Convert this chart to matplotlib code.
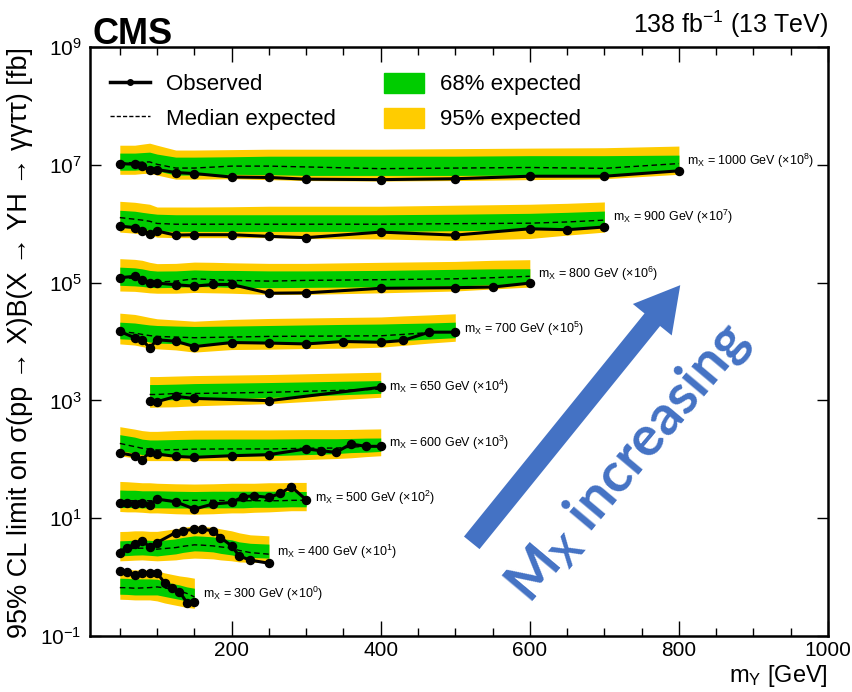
import numpy as np
import matplotlib
matplotlib.use("Agg")
import matplotlib.pyplot as plt
from matplotlib import font_manager
from matplotlib.patches import Patch, FancyArrowPatch
from matplotlib.lines import Line2D
import matplotlib.ticker as mticker

installed = {f.name for f in font_manager.fontManager.ttflist}
FONT = 'Liberation Sans Narrow' if 'Liberation Sans Narrow' in installed else 'Liberation Sans'
plt.rcParams['font.family'] = [FONT, 'DejaVu Sans']
plt.rcParams['mathtext.fontset'] = 'custom'
plt.rcParams['mathtext.rm'] = FONT
plt.rcParams['mathtext.it'] = FONT + ':italic'
plt.rcParams['mathtext.bf'] = FONT + ':bold'

GREEN = '#00cc00'
YELLOW = '#ffcc00'
BLUE = '#4472c4'

# limits in fb (before the per-mass scale factor)
my_1000 = [50, 70, 80, 90, 100, 125, 150, 200, 250, 300, 400, 500, 600, 700, 800]
obs_1000 = [0.105, 0.102, 0.095, 0.081, 0.083, 0.074, 0.071, 0.062, 0.061, 0.057, 0.056, 0.058, 0.064, 0.064, 0.079]
exp_1000 = [0.108, 0.109, 0.111, 0.112, 0.102, 0.088, 0.088, 0.095, 0.095, 0.092, 0.086, 0.088, 0.090, 0.087, 0.105]
p2_1000 = [0.215, 0.215, 0.224, 0.233, 0.215, 0.178, 0.178, 0.181, 0.184, 0.184, 0.184, 0.188, 0.192, 0.195, 0.208]
p1_1000 = [0.158, 0.158, 0.161, 0.164, 0.152, 0.135, 0.135, 0.137, 0.140, 0.140, 0.140, 0.140, 0.143, 0.143, 0.146]
m1_1000 = [0.081, 0.081, 0.083, 0.084, 0.079, 0.067, 0.067, 0.069, 0.068, 0.066, 0.066, 0.066, 0.067, 0.068, 0.079]
m2_1000 = [0.069, 0.069, 0.071, 0.072, 0.067, 0.057, 0.057, 0.058, 0.056, 0.054, 0.053, 0.054, 0.056, 0.058, 0.069]

my_900 = [50, 70, 80, 90, 100, 125, 150, 200, 250, 300, 400, 500, 600, 650, 700]
obs_900 = [0.091, 0.086, 0.075, 0.068, 0.075, 0.064, 0.065, 0.065, 0.061, 0.058, 0.072, 0.064, 0.082, 0.079, 0.088]
exp_900 = [0.127, 0.119, 0.115, 0.110, 0.101, 0.098, 0.098, 0.098, 0.098, 0.098, 0.098, 0.100, 0.102, 0.107, 0.115]
p2_900 = [0.240, 0.231, 0.222, 0.214, 0.192, 0.192, 0.192, 0.194, 0.198, 0.198, 0.198, 0.206, 0.214, 0.222, 0.234]
p1_900 = [0.169, 0.163, 0.156, 0.150, 0.145, 0.142, 0.142, 0.142, 0.142, 0.142, 0.142, 0.145, 0.150, 0.156, 0.164]
m1_900 = [0.086, 0.083, 0.080, 0.077, 0.075, 0.074, 0.074, 0.074, 0.074, 0.074, 0.074, 0.076, 0.079, 0.082, 0.086]
m2_900 = [0.072, 0.069, 0.066, 0.064, 0.059, 0.058, 0.058, 0.058, 0.058, 0.056, 0.055, 0.052, 0.056, 0.064, 0.072]

my_800 = [50, 70, 80, 90, 100, 125, 150, 175, 200, 250, 300, 400, 500, 550, 600]
obs_800 = [0.121, 0.128, 0.112, 0.100, 0.098, 0.092, 0.087, 0.093, 0.093, 0.066, 0.067, 0.080, 0.082, 0.084, 0.098]
exp_800 = [0.121, 0.118, 0.112, 0.107, 0.102, 0.106, 0.116, 0.112, 0.109, 0.106, 0.109, 0.112, 0.116, 0.121, 0.128]
p2_800 = [0.255, 0.248, 0.239, 0.221, 0.210, 0.212, 0.223, 0.221, 0.217, 0.212, 0.212, 0.221, 0.229, 0.239, 0.245]
p1_800 = [0.183, 0.178, 0.171, 0.161, 0.157, 0.158, 0.164, 0.161, 0.161, 0.158, 0.158, 0.161, 0.168, 0.171, 0.172]
m1_800 = [0.090, 0.088, 0.086, 0.083, 0.082, 0.083, 0.086, 0.085, 0.083, 0.082, 0.083, 0.085, 0.088, 0.092, 0.096]
m2_800 = [0.072, 0.071, 0.069, 0.067, 0.066, 0.066, 0.068, 0.067, 0.066, 0.063, 0.063, 0.067, 0.072, 0.078, 0.084]

my_700 = [50, 70, 80, 90, 100, 125, 150, 200, 250, 300, 350, 400, 430, 465, 500]
obs_700 = [0.148, 0.116, 0.107, 0.078, 0.107, 0.101, 0.082, 0.096, 0.094, 0.091, 0.100, 0.097, 0.104, 0.144, 0.144]
exp_700 = [0.148, 0.139, 0.132, 0.126, 0.122, 0.119, 0.116, 0.119, 0.122, 0.123, 0.124, 0.125, 0.132, 0.142, 0.148]
p2_700 = [0.303, 0.288, 0.272, 0.256, 0.243, 0.232, 0.221, 0.237, 0.246, 0.251, 0.256, 0.261, 0.272, 0.283, 0.296]
p1_700 = [0.213, 0.206, 0.198, 0.191, 0.187, 0.183, 0.180, 0.183, 0.187, 0.191, 0.195, 0.198, 0.202, 0.206, 0.213]
m1_700 = [0.111, 0.108, 0.104, 0.098, 0.094, 0.092, 0.089, 0.092, 0.094, 0.096, 0.098, 0.100, 0.104, 0.110, 0.116]
m2_700 = [0.091, 0.087, 0.082, 0.077, 0.075, 0.072, 0.066, 0.073, 0.074, 0.076, 0.077, 0.080, 0.086, 0.094, 0.101]

my_650 = [90, 100, 125, 150, 250, 400]
obs_650 = [0.096, 0.095, 0.117, 0.108, 0.099, 0.167]
exp_650 = [0.126, 0.126, 0.131, 0.131, 0.137, 0.155]
p2_650 = [0.254, 0.254, 0.259, 0.264, 0.275, 0.301]
p1_650 = [0.186, 0.186, 0.189, 0.193, 0.201, 0.217]
m1_650 = [0.102, 0.102, 0.103, 0.105, 0.112, 0.132]
m2_650 = [0.076, 0.077, 0.078, 0.081, 0.088, 0.113]

my_600 = [50, 70, 80, 90, 100, 125, 150, 200, 250, 300, 320, 340, 360, 380, 400]
obs_600 = [0.128, 0.115, 0.099, 0.131, 0.123, 0.112, 0.108, 0.115, 0.120, 0.150, 0.140, 0.131, 0.182, 0.166, 0.166]
exp_600 = [0.186, 0.164, 0.154, 0.149, 0.144, 0.146, 0.149, 0.150, 0.150, 0.154, 0.155, 0.155, 0.160, 0.167, 0.170]
p2_600 = [0.358, 0.325, 0.307, 0.298, 0.298, 0.307, 0.313, 0.315, 0.315, 0.319, 0.319, 0.319, 0.321, 0.325, 0.328]
p1_600 = [0.262, 0.238, 0.220, 0.213, 0.213, 0.217, 0.220, 0.221, 0.221, 0.224, 0.224, 0.224, 0.226, 0.229, 0.230]
m1_600 = [0.140, 0.127, 0.120, 0.115, 0.115, 0.115, 0.115, 0.115, 0.115, 0.120, 0.122, 0.125, 0.130, 0.132, 0.136]
m2_600 = [0.115, 0.105, 0.097, 0.095, 0.095, 0.095, 0.095, 0.095, 0.095, 0.099, 0.101, 0.103, 0.106, 0.111, 0.115]

my_500 = [50, 60, 70, 80, 90, 100, 125, 150, 175, 200, 215, 230, 250, 265, 280, 300]
obs_500 = [0.181, 0.181, 0.174, 0.178, 0.169, 0.211, 0.190, 0.143, 0.174, 0.185, 0.231, 0.240, 0.225, 0.263, 0.342, 0.206]
exp_500 = [0.198, 0.198, 0.198, 0.198, 0.198, 0.198, 0.201, 0.201, 0.201, 0.198, 0.198, 0.198, 0.198, 0.198, 0.201, 0.202]
p2_500 = [0.421, 0.416, 0.408, 0.400, 0.400, 0.392, 0.384, 0.380, 0.384, 0.392, 0.392, 0.392, 0.400, 0.400, 0.405, 0.405]
p1_500 = [0.301, 0.298, 0.298, 0.292, 0.292, 0.292, 0.287, 0.284, 0.287, 0.287, 0.287, 0.287, 0.287, 0.287, 0.284, 0.284]
m1_500 = [0.152, 0.152, 0.152, 0.150, 0.150, 0.150, 0.149, 0.149, 0.150, 0.150, 0.150, 0.153, 0.153, 0.154, 0.156, 0.156]
m2_500 = [0.130, 0.128, 0.128, 0.126, 0.123, 0.123, 0.119, 0.117, 0.119, 0.123, 0.123, 0.126, 0.128, 0.131, 0.134, 0.134]

my_400 = [50, 60, 70, 80, 90, 100, 125, 135, 150, 160, 175, 185, 200, 210, 225, 250]
obs_400 = [0.261, 0.310, 0.371, 0.413, 0.326, 0.386, 0.571, 0.610, 0.652, 0.652, 0.610, 0.470, 0.339, 0.229, 0.194, 0.172]
exp_400 = [0.298, 0.302, 0.308, 0.310, 0.304, 0.298, 0.317, 0.333, 0.353, 0.349, 0.339, 0.326, 0.310, 0.284, 0.261, 0.245]
p2_400 = [0.594, 0.598, 0.610, 0.610, 0.598, 0.598, 0.660, 0.700, 0.742, 0.728, 0.700, 0.660, 0.610, 0.565, 0.522, 0.502]
p1_400 = [0.413, 0.417, 0.424, 0.429, 0.421, 0.413, 0.446, 0.473, 0.502, 0.496, 0.483, 0.455, 0.429, 0.397, 0.375, 0.363]
m1_400 = [0.229, 0.232, 0.236, 0.238, 0.234, 0.229, 0.248, 0.263, 0.279, 0.276, 0.268, 0.253, 0.238, 0.225, 0.216, 0.210]
m2_400 = [0.189, 0.191, 0.194, 0.196, 0.192, 0.189, 0.196, 0.204, 0.210, 0.208, 0.204, 0.196, 0.189, 0.181, 0.178, 0.176]

my_300 = [50, 60, 70, 80, 90, 100, 110, 120, 130, 140, 150]
obs_300 = [1.275, 1.226, 1.090, 1.193, 1.193, 1.165, 0.806, 0.663, 0.567, 0.368, 0.383]
exp_300 = [0.663, 0.660, 0.647, 0.655, 0.663, 0.681, 0.655, 0.622, 0.582, 0.528, 0.461]
p2_300 = [1.362, 1.352, 1.326, 1.326, 1.326, 1.275, 1.179, 1.111, 1.048, 1.008, 0.958]
p1_300 = [0.958, 0.950, 0.932, 0.932, 0.932, 0.921, 0.845, 0.781, 0.737, 0.681, 0.647]
m1_300 = [0.512, 0.508, 0.498, 0.498, 0.498, 0.498, 0.470, 0.443, 0.418, 0.394, 0.368]
m2_300 = [0.421, 0.417, 0.410, 0.410, 0.410, 0.394, 0.364, 0.343, 0.324, 0.305, 0.296]

masses = [1000, 900, 800, 700, 650, 600, 500, 400, 300]
exponents = [8, 7, 6, 5, 4, 3, 2, 1, 0]
series = [
    (my_1000, obs_1000, exp_1000, m2_1000, m1_1000, p1_1000, p2_1000),
    (my_900, obs_900, exp_900, m2_900, m1_900, p1_900, p2_900),
    (my_800, obs_800, exp_800, m2_800, m1_800, p1_800, p2_800),
    (my_700, obs_700, exp_700, m2_700, m1_700, p1_700, p2_700),
    (my_650, obs_650, exp_650, m2_650, m1_650, p1_650, p2_650),
    (my_600, obs_600, exp_600, m2_600, m1_600, p1_600, p2_600),
    (my_500, obs_500, exp_500, m2_500, m1_500, p1_500, p2_500),
    (my_400, obs_400, exp_400, m2_400, m1_400, p1_400, p2_400),
    (my_300, obs_300, exp_300, m2_300, m1_300, p1_300, p2_300),
]

fig = plt.figure(figsize=(8.52, 6.92), dpi=100)
ax = fig.add_axes([90 / 852, 1 - 636 / 692, 738 / 852, 589 / 692])

for mx, k, (my, obs, exp, m2, m1, p1, p2) in zip(masses, exponents, series):
    s = 10.0 ** k
    my = np.array(my)
    ax.fill_between(my, np.array(m2) * s, np.array(p2) * s, color=YELLOW, lw=0)
    ax.fill_between(my, np.array(m1) * s, np.array(p1) * s, color=GREEN, lw=0)
    ax.plot(my, np.array(exp) * s, color='k', lw=1.0, ls=(0, (4, 2.5)))
    ax.plot(my, np.array(obs) * s, color='k', lw=2.2, marker='o', ms=5.8)
    ax.annotate('m$_\\mathrm{X}$ = %d GeV (×10$^{%d}$)' % (mx, k),
                (my[-1], exp[-1] * s), xytext=(6, 2), textcoords='offset points',
                va='center', ha='left', fontsize=9)

ax.set_xlim(10, 1000)
ax.set_yscale('log')
ax.set_ylim(1e-1, 1e9)
ax.xaxis.set_major_locator(mticker.MultipleLocator(200))
ax.xaxis.set_minor_locator(mticker.MultipleLocator(50))
ax.yaxis.set_major_locator(mticker.FixedLocator([10.0 ** e for e in range(-1, 10, 2)]))
ax.yaxis.set_minor_locator(mticker.NullLocator())
ax.tick_params(which='both', direction='in', top=True, right=True, labelsize=15, width=1.0)
ax.xaxis.set_tick_params(which='major', length=11)
ax.xaxis.set_tick_params(which='minor', length=5.5)
ax.yaxis.set_tick_params(which='major', length=8, pad=6)
for sp in ax.spines.values():
    sp.set_linewidth(1.8)

ax.set_xlabel('m$_\\mathrm{Y}$ [GeV]', loc='right', fontsize=17)
ax.xaxis.set_label_coords(1.0, -0.045)
ax.set_ylabel('95% CL limit on σ(pp → X)B(X → YH → γγττ) [fb]', loc='top', fontsize=19.5)
ax.yaxis.set_label_coords(-0.077, 1.0)

fig.text(93 / 852, 1 - 44 / 692, 'CMS', fontsize=26, fontweight='bold', ha='left', va='baseline')
ax.text(1.0, 1.012, '138 fb$^{-1}$ (13 TeV)', transform=ax.transAxes, ha='right', va='bottom', fontsize=18)

handles = [
    Line2D([], [], color='k', lw=2.5, marker='o', ms=4),
    Line2D([], [], color='k', lw=1.0, ls=(0, (3, 1.5))),
    Patch(facecolor=GREEN, edgecolor=GREEN),
    Patch(facecolor=YELLOW, edgecolor=YELLOW),
]
labels = ['Observed', 'Median expected', '68% expected', '95% expected']
ax.legend(handles, labels, loc='upper left', bbox_to_anchor=(0.0, 0.99), ncol=2, frameon=False,
          fontsize=16, handlelength=1.8, handleheight=1.0, columnspacing=2.2, labelspacing=0.55,
          handletextpad=0.7)

# decorative arrow and annotation
arrow = FancyArrowPatch((470 / 852, 1 - 545 / 692), (682 / 852, 1 - 283 / 692), transform=fig.transFigure,
                        arrowstyle='simple,head_length=1.6,head_width=1.8,tail_width=0.72',
                        mutation_scale=20, color=BLUE, lw=0)
fig.patches.append(arrow)
fig.text(628 / 852, 1 - 463 / 692, 'M$_{\\mathdefault{X}}$ increasing', rotation=50, color=BLUE,
         fontsize=40, fontweight='bold', family='Lato', ha='center', va='center')

fig.savefig('out.png', dpi=100)
